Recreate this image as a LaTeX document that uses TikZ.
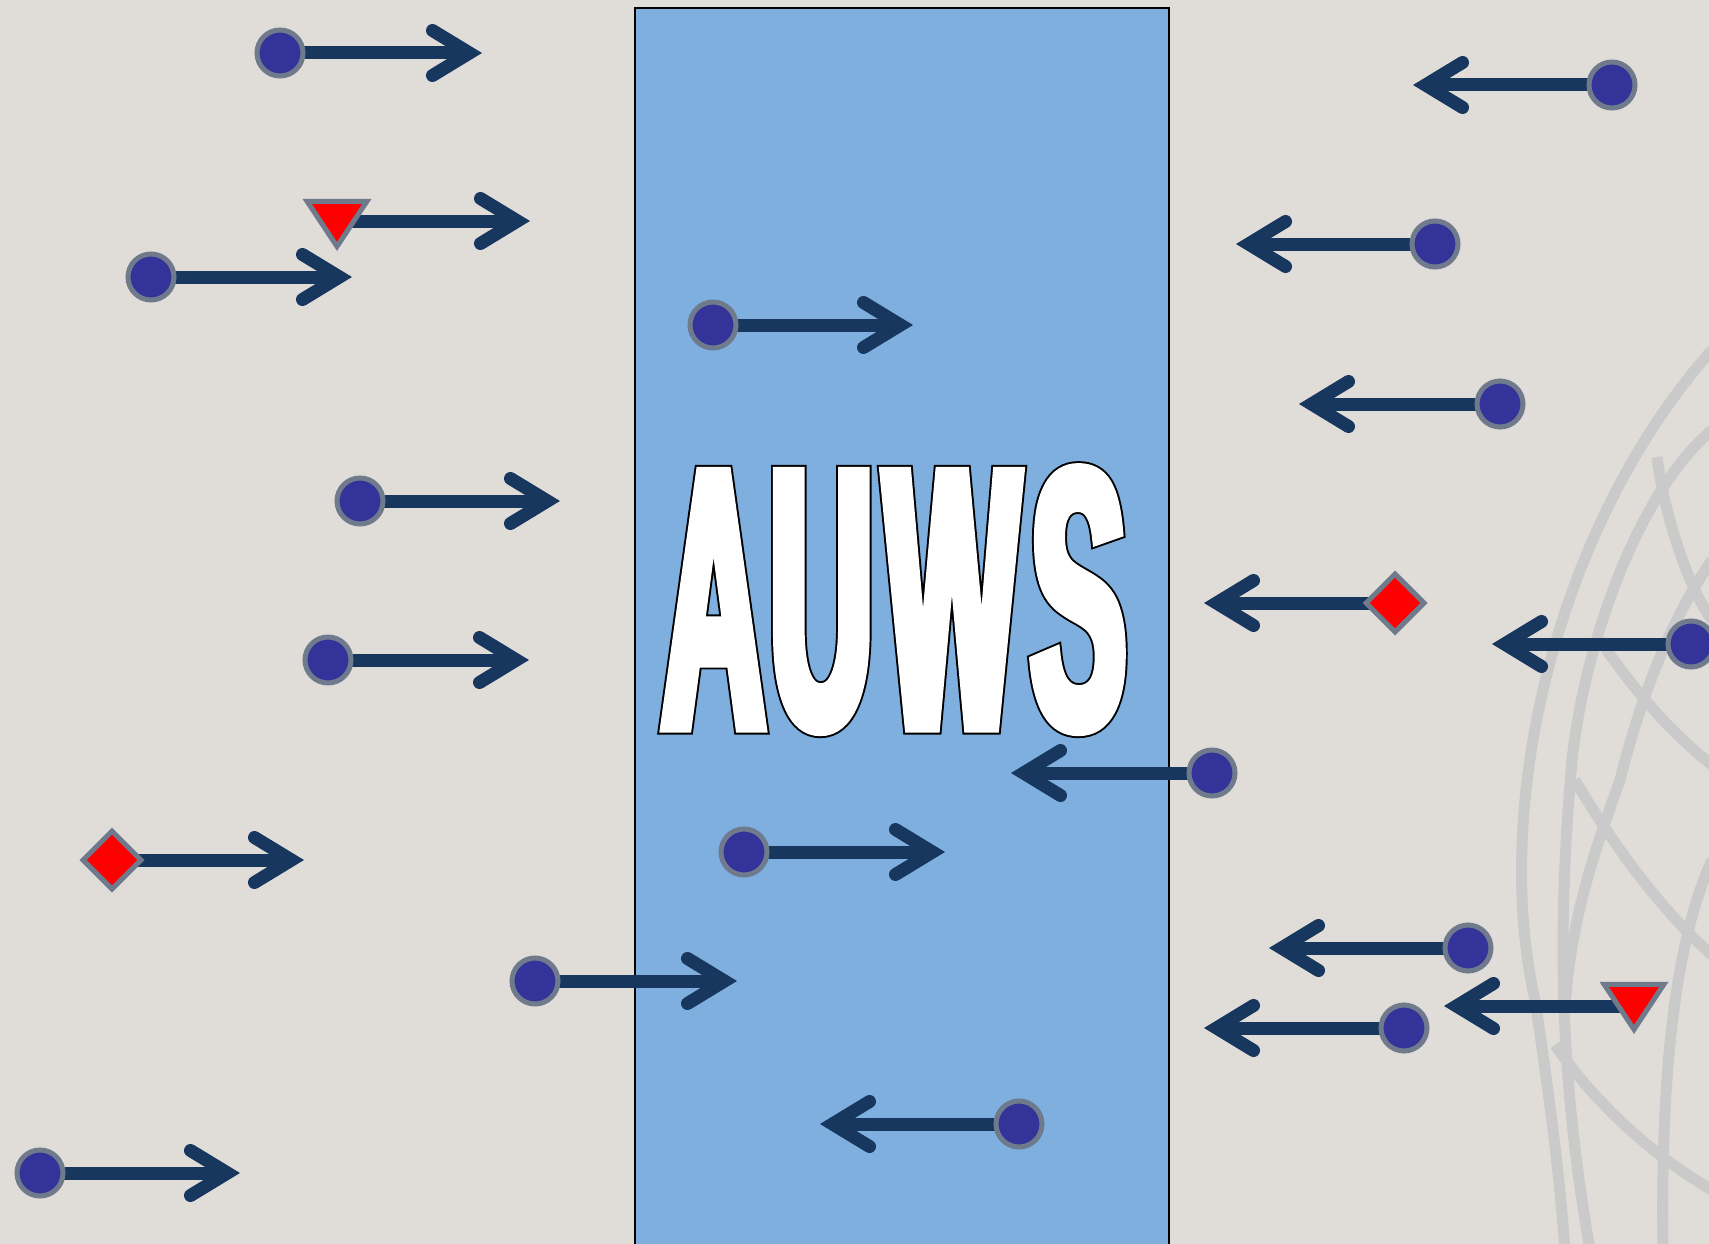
\documentclass[tikz,border=0pt]{standalone}
\usepackage{fontspec}
\usetikzlibrary{arrows.meta,shapes.geometric}
% condensed banner faces: a heavy dark rim and a lighter white body
\newfontface\bannerrim{Liberation Sans Bold}[FakeStretch=0.385, FakeBold=4.05]
\newfontface\bannerbody{Liberation Sans Bold}[FakeStretch=0.385, FakeBold=3.0]

\definecolor{paper}{HTML}{E0DCD8}
\definecolor{panel}{HTML}{7FAFDF}
\definecolor{shaft}{HTML}{17375E}
\definecolor{dotfill}{HTML}{333399}
\definecolor{rim}{HTML}{6F7B8C}
\definecolor{mesh}{HTML}{CACACA}

\pgfdeclarelayer{base}
\pgfdeclarelayer{back}
\pgfsetlayers{base,back,main}

\newcommand\bannerword{A\kern5pt U\kern12pt W\kern11.5pt S}

\tikzset{
  dot/.style={circle, fill=dotfill, draw=rim, line width=5pt,
    minimum size=46pt, inner sep=0pt},
  gem/.style={diamond, fill=red, draw=rim, line width=5pt,
    minimum width=60pt, minimum height=60pt, inner sep=0pt},
  wedge/.style={isosceles triangle, isosceles triangle apex angle=67,
    shape border rotate=270, fill=red, draw=rim, line width=5pt,
    minimum height=45pt, inner sep=0pt, anchor=apex},
  flow/.style={draw=shaft, line width=13pt,
    -{Straight Barb[length=37pt,width=45pt,line cap=round]}},
  meshline/.style={draw=mesh, line width=11pt},
  banner/.style={inner sep=0pt, anchor=base},
}

\begin{document}
\begin{tikzpicture}[x=1pt,y=-1pt]
\useasboundingbox (0,0) rectangle (1709,1244);

\begin{pgfonlayer}{base}
  \begin{scope}
    \clip (0,0) rectangle (1709,1244);
    \fill[paper] (0,0) rectangle (1709,1244);
    % faint wire globe on the right edge
    \draw[meshline] (1712,350) .. controls (1560,520) and (1490,800) .. (1535,1000)
                    .. controls (1550,1100) and (1560,1180) .. (1565,1250);
    \draw[meshline] (1712,430) .. controls (1640,490) and (1585,640) .. (1572,760)
                    .. controls (1560,900) and (1555,1050) .. (1590,1250);
    \draw[meshline] (1657,457) .. controls (1665,520) and (1690,590) .. (1712,620);
    \draw[meshline] (1600,640) .. controls (1640,700) and (1680,740) .. (1712,765);
    \draw[meshline] (1575,780) .. controls (1610,840) and (1660,910) .. (1712,955);
    \draw[meshline] (1712,560) .. controls (1670,620) and (1640,700) .. (1620,780)
                    .. controls (1595,850) and (1570,920) .. (1565,1010);
    \draw[meshline] (1712,860) .. controls (1680,930) and (1660,1050) .. (1663,1250);
    \draw[meshline] (1555,1045) .. controls (1600,1110) and (1660,1160) .. (1712,1190);
    % central panel
    \draw[fill=panel, draw=black, line width=1.6pt] (635,8) rectangle (1169,1260);
  \end{scope}
\end{pgfonlayer}

% title: dark rim under the white letters (low miter limit keeps tips blunt)
\node[banner] (titlerim) at (894,727)
  {\pgfsetmiterlimit{2}\fontsize{370pt}{370pt}\bannerrim\color{black}\bannerword};
\node[banner] (title) at (894,727)
  {\pgfsetmiterlimit{2}\fontsize{370pt}{370pt}\bannerbody\color{white}\bannerword};

% markers
\node[dot] (c1) at (280,53) {};
\node[wedge] (w2) at (337,251) {};
\node[dot] (c3) at (151,277) {};
\node[dot] (c4) at (360,501) {};
\node[dot] (c5) at (328,660) {};
\node[gem] (g6) at (112,860) {};
\node[dot] (c7) at (535,981) {};
\node[dot] (c8) at (40,1173) {};
\node[dot] (c9) at (713,325) {};
\node[dot] (c10) at (744,852) {};
\node[dot] (c11) at (1019,1124) {};
\node[dot] (c12) at (1212,773) {};
\node[dot] (c13) at (1612,85) {};
\node[dot] (c14) at (1435,244) {};
\node[dot] (c15) at (1500,404) {};
\node[gem] (g16) at (1395,603) {};
\node[dot] (c17) at (1691,644) {};
\node[dot] (c18) at (1468,948) {};
\node[wedge] (w19) at (1634,1034) {};
\node[dot] (c20) at (1404,1028) {};

% arrow ends
\coordinate (t1) at (482,53);
\coordinate (t2) at (530,221);
\coordinate (t3) at (352,277);
\coordinate (t4) at (560,501);
\coordinate (t5) at (529,660);
\coordinate (t6) at (304,860);
\coordinate (t7) at (737,981);
\coordinate (t8) at (240,1173);
\coordinate (t9) at (913,325);
\coordinate (t10) at (945,852);
\coordinate (t11) at (820,1124);
\coordinate (t12) at (1011,773);
\coordinate (t13) at (1413,85);
\coordinate (t14) at (1236,244);
\coordinate (t15) at (1299,404);
\coordinate (t16) at (1204,603);
\coordinate (t17) at (1492,644);
\coordinate (t18) at (1269,948);
\coordinate (t19) at (1444,1006);
\coordinate (t20) at (1204,1028);

\begin{pgfonlayer}{back}
  \draw[flow] (c1.center) -- (t1);
  \draw[flow] (w2.center |- t2) -- (t2);
  \draw[flow] (c3.center) -- (t3);
  \draw[flow] (c4.center) -- (t4);
  \draw[flow] (c5.center) -- (t5);
  \draw[flow] (g6.center) -- (t6);
  \draw[flow] (c7.center) -- (t7);
  \draw[flow] (c8.center) -- (t8);
  \draw[flow] (c9.center) -- (t9);
  \draw[flow] (c10.center) -- (t10);
  \draw[flow] (c11.center) -- (t11);
  \draw[flow] (c12.center) -- (t12);
  \draw[flow] (c13.center) -- (t13);
  \draw[flow] (c14.center) -- (t14);
  \draw[flow] (c15.center) -- (t15);
  \draw[flow] (g16.center) -- (t16);
  \draw[flow] (c17.center) -- (t17);
  \draw[flow] (c18.center) -- (t18);
  \draw[flow] (w19.center |- t19) -- (t19);
  \draw[flow] (c20.center) -- (t20);
\end{pgfonlayer}
\end{tikzpicture}
\end{document}
